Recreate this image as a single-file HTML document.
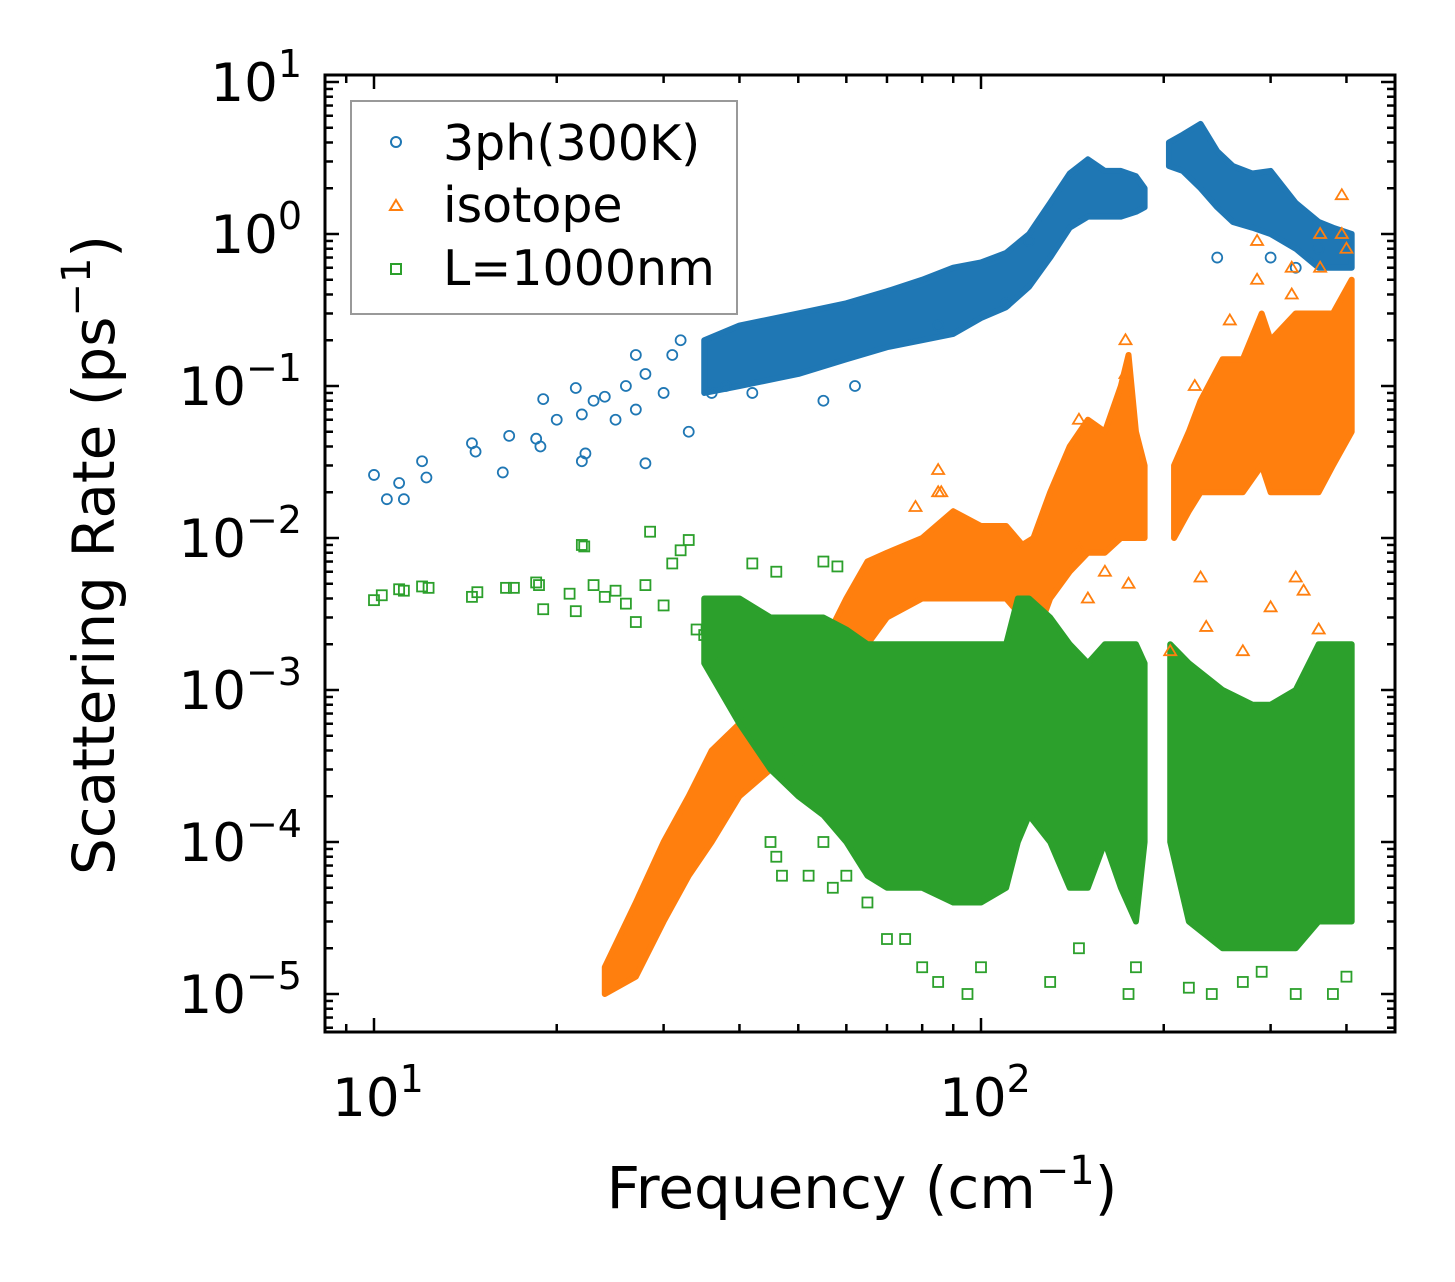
<!DOCTYPE html>
<html><head><meta charset="utf-8">
<style>
html,body{margin:0;padding:0;background:#fff;}
svg{display:block;font-family:"DejaVu Sans","Liberation Sans",sans-serif;}
</style></head>
<body>
<svg id="chart" width="1455" height="1282" viewBox="0 0 1455 1282" xmlns="http://www.w3.org/2000/svg">
<rect width="1455" height="1282" fill="#fff"/>
<g id="bands"></g>
<g id="marks"></g>
<g id="axes"></g>
<text x="862" y="1208" font-size="58" text-anchor="middle">Frequency (cm<tspan dy="-24" font-size="40">−1</tspan><tspan dy="24">)</tspan></text>
<text transform="translate(114,555) rotate(-90)" font-size="58" text-anchor="middle">Scattering Rate (ps<tspan dy="-24" font-size="40">−1</tspan><tspan dy="24">)</tspan></text>
<g>
<rect x="351" y="101" width="386" height="213" fill="#fff" stroke="#999" stroke-width="2"/>
<circle cx="396" cy="142" r="5" fill="none" stroke="#1f77b4" stroke-width="2"/>
<text x="443" y="160" font-size="49">3ph(300K)</text>
<polygon points="396,200 402,210 390,210" fill="none" stroke="#ff7f0e" stroke-width="2"/>
<text x="443" y="222" font-size="49">isotope</text>
<rect x="391" y="264" width="10" height="10" fill="none" stroke="#2ca02c" stroke-width="2"/>
<text x="443" y="285" font-size="49">L=1000nm</text>
</g>
</svg>
<script>
// ---- data ----
const blueBandF=[35,40,50,60,70,80,90,100,110,120,130,140,150,160,170,180,186];
const blueBandLo=[0.09,0.1,0.12,0.15,0.18,0.2,0.22,0.28,0.33,0.45,0.7,1.1,1.3,1.3,1.3,1.4,1.5];
const blueBandHi=[0.2,0.25,0.3,0.35,0.42,0.5,0.6,0.65,0.75,1.0,1.6,2.5,3.1,2.6,2.6,2.4,2.0];
const blueBand2F=[204,215,230,245,260,280,300,330,360,380,408];
const blueBand2Lo=[2.8,2.6,2.0,1.5,1.2,1.1,1.0,0.8,0.6,0.6,0.6];
const blueBand2Hi=[4.0,4.5,5.3,3.5,2.8,2.5,2.6,1.6,1.2,1.1,1.0];
const blueF=[10,10.5,11,11.2,12,12.2,14.5,14.7,16.3,16.7,18.5,18.8,19,20,21.5,22,22.3,22,23,24,25,26,27,28,28,30,31,33,32,27,36,38,42,55,62,85,110,120,245,300,330,360];
const blueY=[0.026,0.018,0.023,0.018,0.032,0.025,0.042,0.037,0.027,0.047,0.045,0.04,0.082,0.06,0.097,0.032,0.036,0.065,0.08,0.085,0.06,0.1,0.07,0.031,0.12,0.09,0.16,0.05,0.2,0.16,0.09,0.1,0.09,0.08,0.1,0.25,0.35,0.9,0.7,0.7,0.6,0.8];

const orangeBandF=[24,27,30,33,36,40,45,50,55,60,65,70,80,90,100,110,117,122,130,140,150,160,170,175,180,186];
const orangeBandLo=[1e-5,1.3e-5,3e-5,6e-5,1e-4,2e-4,3e-4,4e-4,6e-4,1e-3,2e-3,3e-3,4e-3,4e-3,4e-3,4e-3,3e-3,2e-3,4e-3,6e-3,8e-3,8e-3,1e-2,1e-2,1e-2,1e-2];
const orangeBandHi=[1.5e-5,4e-5,1e-4,2e-4,4e-4,6e-4,9e-4,1.2e-3,2e-3,4e-3,7e-3,8e-3,1e-2,1.5e-2,1.2e-2,1.2e-2,9e-3,1e-2,2e-2,4e-2,6e-2,5e-2,1e-1,1.6e-1,5e-2,3e-2];
const orangeBand2F=[208,220,230,250,270,290,300,330,360,380,408];
const orangeBand2Lo=[1e-2,1.5e-2,2e-2,2e-2,2e-2,3e-2,2e-2,2e-2,2e-2,3e-2,5e-2];
const orangeBand2Hi=[3e-2,5e-2,8e-2,1.5e-1,1.5e-1,3e-1,2e-1,3e-1,3e-1,3e-1,5e-1];
const orangeF=[85,86,145,160,205,235,230,270,300,330,340,360,150,175,173,173,145,225,257,285,285,325,325,362,362,393,393,400,85,78];
const orangeY=[0.028,0.02,0.0085,0.006,0.0018,0.0026,0.0055,0.0018,0.0035,0.0055,0.0045,0.0025,0.004,0.005,0.2,0.12,0.06,0.1,0.27,0.9,0.5,0.6,0.4,1.0,0.6,1.8,1.0,0.8,0.02,0.016];

const greenBandF=[35,40,45,50,55,60,65,70,80,90,100,110,115,120,130,140,150,160,170,180,186];
const greenBandLo=[1.5e-3,6e-4,3e-4,2e-4,1.5e-4,1e-4,6e-5,5e-5,5e-5,4e-5,4e-5,5e-5,1e-4,1.5e-4,1e-4,5e-5,5e-5,1e-4,5e-5,3e-5,1e-4];
const greenBandHi=[4e-3,4e-3,3e-3,3e-3,3e-3,2.5e-3,2e-3,2e-3,2e-3,2e-3,2e-3,2e-3,4e-3,4e-3,3e-3,2e-3,1.5e-3,2e-3,2e-3,2e-3,1.5e-3];
const greenBand2F=[205,220,250,280,300,330,360,380,408];
const greenBand2Lo=[1e-4,3e-5,2e-5,2e-5,2e-5,2e-5,3e-5,3e-5,3e-5];
const greenBand2Hi=[2e-3,1.5e-3,1e-3,8e-4,8e-4,1e-3,2e-3,2e-3,2e-3];
const greenF=[10,10.3,11,11.2,12,12.3,14.5,14.8,16.5,17,18.5,18.7,19,21,21.5,22,22.2,23,24,25,26,27,28,28.5,30,31,32,33,34,35,36,38,40,42,46,48,50,52,55,58,60,45,47,46,75,70,80,85,95,100,130,145,175,180,220,240,270,290,330,380,400,65,60,55,57,52];
const greenY=[0.0039,0.0042,0.0046,0.0045,0.0048,0.0047,0.0041,0.0044,0.0047,0.0047,0.0051,0.0049,0.0034,0.0043,0.0033,0.009,0.0088,0.0049,0.0041,0.0045,0.0037,0.0028,0.0049,0.011,0.0036,0.0068,0.0083,0.0097,0.0025,0.0023,0.0015,0.0012,0.0007,0.0068,0.006,0.0006,0.00035,0.0003,0.007,0.0065,0.00015,0.0001,0.00006,0.00008,2.3e-5,2.3e-5,1.5e-5,1.2e-5,1e-5,1.5e-5,1.2e-5,2e-5,1e-5,1.5e-5,1.1e-5,1e-5,1.2e-5,1.4e-5,1e-5,1e-5,1.3e-5,4e-5,6e-5,1e-4,5e-5,6e-5];

const xTickVals=[10,100];
const xTickLabels=["10","10"];
const xTickExp=["1","2"];
const yTickVals=[10,1,0.1,0.01,1e-3,1e-4,1e-5];
const yTickExp=["1","0","−1","−2","−3","−4","−5"];

// ---- axes ----
const L=325,R=1395,T=75,B=1032;
const X=f=>374+607*(Math.log10(f)-1);
const Y=v=>234-152*Math.log10(v);
const NS="http://www.w3.org/2000/svg";
function mk(tag,attrs,parent){const e=document.createElementNS(NS,tag);for(const k in attrs)e.setAttribute(k,attrs[k]);parent.appendChild(e);return e;}
const bands=document.getElementById('bands'),marks=document.getElementById('marks'),axes=document.getElementById('axes');

function band(F,Lo,Hi,color,name){
  let pts=F.map((f,i)=>X(f)+','+Y(Hi[i]));
  for(let i=F.length-1;i>=0;i--)pts.push(X(F[i])+','+Y(Lo[i]));
  const p=mk('polygon',{points:pts.join(' '),fill:color,stroke:color,'stroke-width':6,'stroke-linejoin':'round'},bands);
  
  
}
band(blueBandF,blueBandLo,blueBandHi,'#1f77b4','band-3ph-low');
band(blueBand2F,blueBand2Lo,blueBand2Hi,'#1f77b4','band-3ph-high');
band(orangeBandF,orangeBandLo,orangeBandHi,'#ff7f0e','band-isotope-low');
band(orangeBand2F,orangeBand2Lo,orangeBand2Hi,'#ff7f0e','band-isotope-high');
band(greenBandF,greenBandLo,greenBandHi,'#2ca02c','band-boundary-low');
band(greenBand2F,greenBand2Lo,greenBand2Hi,'#2ca02c','band-boundary-high');

blueF.forEach((f,i)=>{const c=mk('circle',{cx:X(f),cy:Y(blueY[i]),r:5,fill:'none',stroke:'#1f77b4','stroke-width':1.8},marks);

});
orangeF.forEach((f,i)=>{const x=X(f),y=Y(orangeY[i]);const p=mk('polygon',{points:`${x},${y-6} ${x+6},${y+4} ${x-6},${y+4}`,fill:'none',stroke:'#ff7f0e','stroke-width':1.8},marks);

});
greenF.forEach((f,i)=>{const r=mk('rect',{x:X(f)-5,y:Y(greenY[i])-5,width:10,height:10,fill:'none',stroke:'#2ca02c','stroke-width':1.8},marks);

});

// frame
const fr=mk('rect',{x:L,y:T,width:R-L,height:B-T,fill:'none',stroke:'#000','stroke-width':3},axes);


for(let d=0;d<=3;d++){for(let m=1;m<10;m++){const f=m*Math.pow(10,d);const x=X(f);if(x<L||x>R)continue;const len=m===1?14:8;
mk('line',{x1:x,y1:B,x2:x,y2:B-len,stroke:'#000','stroke-width':2.5},axes);mk('line',{x1:x,y1:T,x2:x,y2:T+len,stroke:'#000','stroke-width':2.5},axes);}}
for(let e=-6;e<=1;e++){for(let m=1;m<10;m++){const v=m*Math.pow(10,e);const y=Y(v);if(y<T||y>B)continue;const len=m===1?14:8;
mk('line',{x1:L,y1:y,x2:L+len,y2:y,stroke:'#000','stroke-width':2.5},axes);mk('line',{x1:R,y1:y,x2:R-len,y2:y,stroke:'#000','stroke-width':2.5},axes);}}
xTickVals.forEach((v,i)=>{const t=mk('text',{x:X(v)+4,y:1116,'font-size':53,'text-anchor':'middle'},axes);t.textContent=xTickLabels[i];
const s=mk('tspan',{dy:-24,'font-size':38},t);s.textContent=xTickExp[i];

});
yTickVals.forEach((v,i)=>{const t=mk('text',{x:302,y:Y(v)+19,'font-size':53,'text-anchor':'end'},axes);t.textContent='10';
const s=mk('tspan',{dy:-24,'font-size':38},t);s.textContent=yTickExp[i];

});
</script>
</body></html>
